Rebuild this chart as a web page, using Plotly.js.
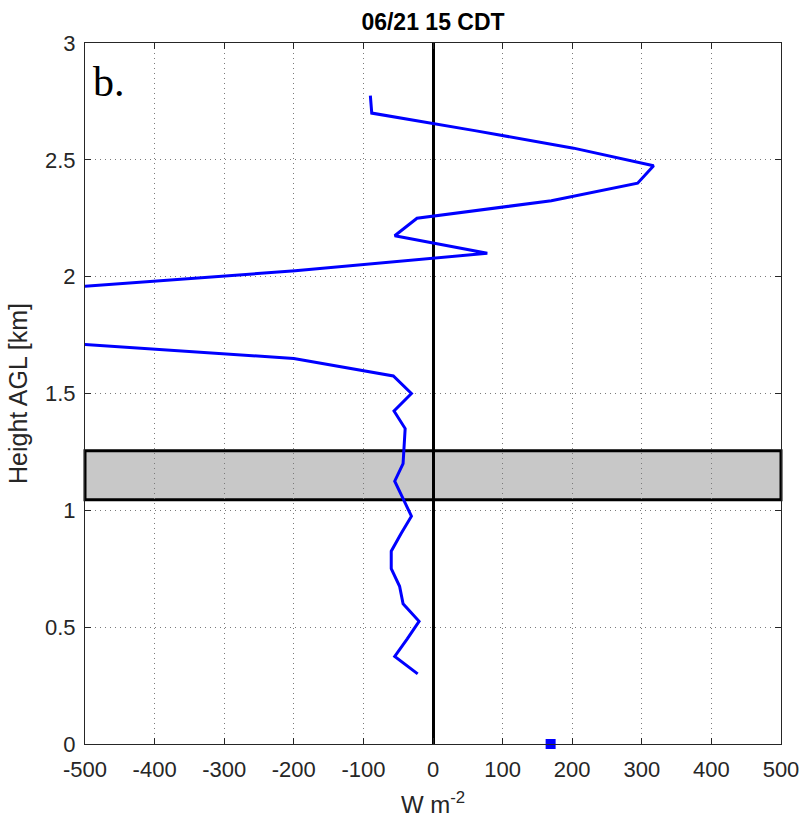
<!DOCTYPE html>
<html>
<head>
<meta charset="utf-8">
<script src="https://cdn.plot.ly/plotly-3.0.1.min.js"></script>
<style>html,body{margin:0;padding:0;background:#fff;}#chart{width:809px;height:830px;}</style>
</head>
<body>
<div id="chart"></div>
<script>
// Profile heights (km AGL)
const heights = [0.300, 0.375, 0.450, 0.525, 0.600, 0.675, 0.750, 0.825, 0.900, 0.975,
                 1.050, 1.125, 1.200, 1.275, 1.350, 1.425, 1.500, 1.575, 1.650, 1.725,
                 1.800, 1.875, 1.950, 2.025, 2.100, 2.175, 2.250, 2.325, 2.400, 2.475,
                 2.550, 2.625, 2.700, 2.775];
// Flux values (W m^-2)
const flux = [-22, -55, -37, -20, -43, -48, -60, -60, -46, -31,
              -43, -55, -43, -42, -40, -56, -31, -57, -200, -575,
              -1500, -1500, -540, -198, 78, -55, -23, 170, 294, 317,
              202, 60, -88, -90];
// Surface value
const surfaceX = [169];
const surfaceY = [0];
// Shaded layer
const layerBottom = 1.045;
const layerTop = 1.255;
// Ticks
const xTicks = [-500, -400, -300, -200, -100, 0, 100, 200, 300, 400, 500];
const yTicks = [0, 0.5, 1, 1.5, 2, 2.5, 3];
const yTickText = ['0', '0.5', '1', '1.5', '2', '2.5', '3'];

const fam = 'Liberation Sans, Arial, sans-serif';
const tickFont = {family: fam, size: 22, color: '#262626'};

const traces = [
  {x: flux, y: heights, type: 'scatter', mode: 'lines',
   line: {color: '#0000ff', width: 3}, hoverinfo: 'skip', cliponaxis: true},
  {x: surfaceX, y: surfaceY, type: 'scatter', mode: 'markers',
   marker: {symbol: 'square', size: 10, color: '#0000ff'}, cliponaxis: false}
];

const layout = {
  width: 809, height: 830,
  margin: {l: 85, r: 28, t: 43, b: 86},
  paper_bgcolor: '#ffffff', plot_bgcolor: '#ffffff',
  showlegend: false,
  title: {text: '<b>06/21 15 CDT</b>', x: 0.5, xref: 'paper', y: 0.973, yref: 'container', yanchor: 'middle',
          font: {family: fam, size: 23, color: '#000'}},
  xaxis: {
    range: [-500, 500], tickvals: xTicks, ticktext: xTicks.map(String),
    showgrid: true, gridcolor: '#7a7a7a', griddash: '1px,4px', gridwidth: 1,
    zeroline: true, zerolinecolor: '#000000', zerolinewidth: 3,
    showline: true, linecolor: '#262626', linewidth: 1, mirror: 'ticks',
    ticks: 'inside', ticklen: 6, tickcolor: '#262626',
    tickfont: tickFont, ticklabelstandoff: 6,
    title: {text: 'W m<sup>-2</sup>', font: {family: fam, size: 24, color: '#262626'}, standoff: 14},
    fixedrange: true
  },
  yaxis: {
    range: [0, 3], tickvals: yTicks, ticktext: yTickText,
    showgrid: true, gridcolor: '#7a7a7a', griddash: '1px,4px', gridwidth: 1,
    zeroline: false,
    showline: true, linecolor: '#262626', linewidth: 1, mirror: 'ticks',
    ticks: 'inside', ticklen: 6, tickcolor: '#262626',
    tickfont: tickFont, ticklabelstandoff: 4,
    title: {text: 'Height AGL [km]', font: {family: fam, size: 25, color: '#262626'}, standoff: 10},
    fixedrange: true
  },
  shapes: [
    {type: 'rect', xref: 'paper', yref: 'y', x0: 0, x1: 1, y0: layerBottom, y1: layerTop,
     fillcolor: '#c8c8c8', line: {color: '#000000', width: 3}, layer: 'below'}
  ],
  annotations: [
    {text: 'b.', xref: 'paper', yref: 'paper', x: 0.008, y: 0.945, xanchor: 'left', yanchor: 'middle',
     showarrow: false, font: {family: 'Liberation Serif, Times New Roman, serif', size: 42, color: '#000'}}
  ]
};

Plotly.newPlot('chart', traces, layout, {displayModeBar: false, staticPlot: true});
</script>
</body>
</html>
